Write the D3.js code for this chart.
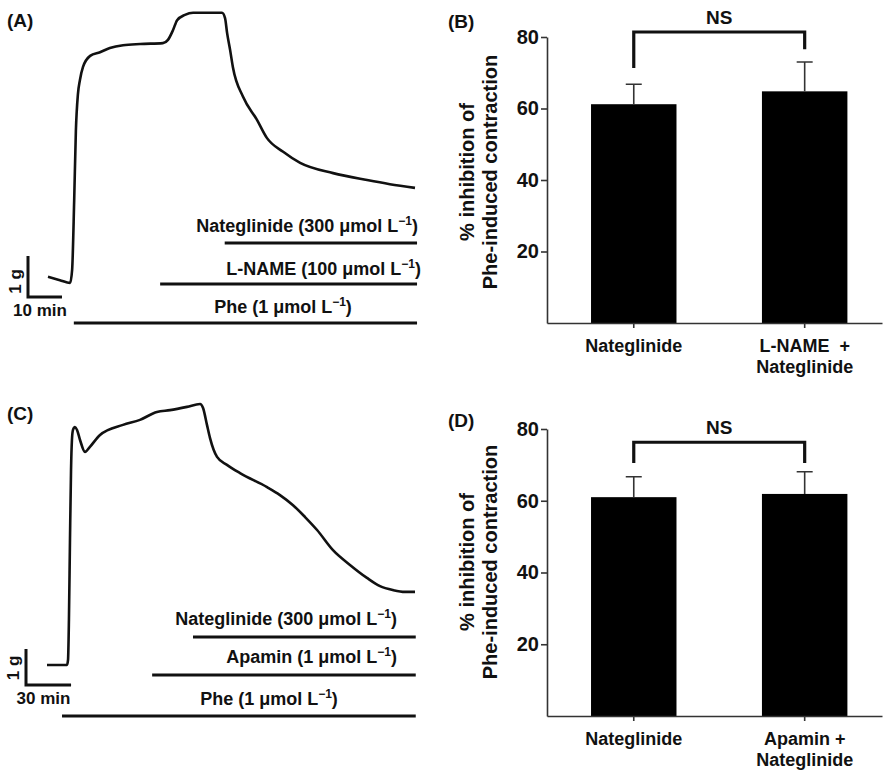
<!DOCTYPE html>
<html>
<head>
<meta charset="utf-8">
<script src="https://cdn.jsdelivr.net/npm/d3@7"></script>
<style>
  body { margin: 0; background: #fff; }
  text { font-family: "Liberation Sans", Arial, sans-serif; font-weight: bold; fill: #111; }
</style>
</head>
<body>
<div id="chart"></div>
<script>
// Trace A : temps (min) et tension (g)
const timeA = [0, 3.5, 6.5, 7.1, 7.7, 8.2, 8.8, 9.4, 10.3, 12.4, 15.3, 18.2, 22.1, 27.1, 33.8, 35.3, 36.8, 38.0, 40.3, 42.7, 47.7, 51.2, 52.1, 52.7, 53.6, 54.4, 57.4, 61.5, 64.4, 69.2, 74.2, 83.9, 93.9, 100.6, 108];
const tensionA = [0.15, 0.07, 0, 0.32, 2.0, 3.7, 4.6, 4.95, 5.27, 5.54, 5.63, 5.73, 5.8, 5.83, 5.85, 5.93, 6.17, 6.41, 6.54, 6.59, 6.59, 6.59, 6.46, 6.1, 5.68, 5.27, 4.54, 3.98, 3.54, 3.2, 2.93, 2.68, 2.51, 2.41, 2.32];

// Trace C
const timeC = [0, 13.3, 14.0, 14.6, 15.3, 16.0, 16.6, 17.3, 18.6, 20.0, 22.0, 25.3, 28.6, 35.3, 50.6, 61.9, 73.2, 81.9, 93.2, 101.9, 103.9, 106.5, 108.5, 113.2, 119.8, 128.5, 146.5, 155.1, 163.8, 171.8, 179.8, 190.4, 201.7, 213.0, 221.7, 230.4, 238.3, 245.0];
const tensionC = [0, 0, 0.14, 1.25, 3.47, 5.42, 6.25, 6.53, 6.61, 6.53, 6.25, 5.92, 6.06, 6.39, 6.67, 6.81, 7.03, 7.08, 7.17, 7.25, 7.14, 6.67, 6.31, 5.78, 5.56, 5.33, 4.94, 4.72, 4.44, 4.11, 3.75, 3.19, 2.78, 2.42, 2.19, 2.08, 2.03, 2.03];

// Traitements (nom, dose, début en min)
const drugsA = ["Nateglinide", "L-NAME", "Phe"];
const dosesA = ["300", "100", "1"];
const startsA = [52, 33, 7.6];
const drugsC = ["Nateglinide", "Apamin", "Phe"];
const dosesC = ["300", "1", "1"];
const startsC = [97.2, 70, 10];

// Histogrammes (% inhibition, moyenne + SEM)
const yTicks = [20, 40, 60, 80];
const catsB = ["Nateglinide", "L-NAME + Nateglinide"];
const labelsB = [["Nateglinide"], ["L-NAME  +", "Nateglinide"]];
const meansB = [61.2, 64.8];
const semB = [5.6, 8.2];
const bracketB = [71.3, 81.4, 76.6]; // jambe gauche, haut, jambe droite
const catsD = ["Nateglinide", "Apamin + Nateglinide"];
const labelsD = [["Nateglinide"], ["Apamin +", "Nateglinide"]];
const meansD = [61.0, 61.9];
const semD = [5.7, 6.2];
const bracketD = [70.5, 76.3, 70.5];

let svg = d3.select("#chart").append("svg")
  .attr("width", 883)
  .attr("height", 773);

// Étiquette "Nom (dose µmol L-1)" avec exposant
function doseLabel(x, y, anchor, name, dose) {
  let t = svg.append("text")
    .attr("x", x).attr("y", y)
    .attr("text-anchor", anchor)
    .style("font-size", "18px");
  t.append("tspan").text(name + " (" + dose + " μmol L");
  t.append("tspan").attr("dy", -7).style("font-size", "12px").text("−1");
  t.append("tspan").attr("dy", 7).text(")");
}

function drawTrace(o) {
  let x = d3.scaleLinear().domain([0, o.tMax]).range([o.x0, o.x1]);
  let y = d3.scaleLinear().domain([0, 1]).range([o.y0, o.y0 - o.pxPerG]);

  let pts = o.time.map((t, i) => [t, o.tension[i]]);
  let line = d3.line()
    .x(d => x(d[0]))
    .y(d => y(d[1]))
    .curve(d3.curveMonotoneX);

  svg.append("path")
    .datum(pts)
    .attr("d", line)
    .attr("fill", "none")
    .attr("stroke", "#111")
    .attr("stroke-width", 2.6)
    .attr("stroke-linejoin", "round");

  // barres de traitement
  o.drugs.forEach((name, i) => {
    svg.append("line")
      .attr("x1", x(o.starts[i])).attr("x2", x(o.tEnd))
      .attr("y1", o.barY[i]).attr("y2", o.barY[i])
      .attr("stroke", "#111")
      .attr("stroke-width", 3);
    let lab = o.labels[i];
    doseLabel(lab[0], lab[1], lab[2], name, o.doses[i]);
  });

  // échelle : 1 g et n min
  let w = x(o.sbMin) - x(0);
  let h = y(0) - y(1);
  svg.append("path")
    .attr("d", "M" + o.sbX + "," + (o.sbY - h) + "V" + o.sbY + "H" + (o.sbX + w))
    .attr("fill", "none")
    .attr("stroke", "#111")
    .attr("stroke-width", 3);
  svg.append("text")
    .attr("transform", "translate(" + (o.sbX - 13) + "," + (o.sbY - h / 2 + o.gShift) + ") rotate(-90)")
    .attr("text-anchor", "middle")
    .attr("dy", "0.35em")
    .style("font-size", "17px")
    .text("1 g");
  svg.append("text")
    .attr("x", o.sbX + w / 2 - 5)
    .attr("y", o.sbY + 19)
    .attr("text-anchor", "middle")
    .style("font-size", "17px")
    .text(o.sbMin + " min");

  svg.append("text")
    .attr("x", 7).attr("y", o.panelY)
    .style("font-size", "19px")
    .text(o.panel);
}

function drawBars(o) {
  let y = d3.scaleLinear().domain([0, 80]).range([o.y0, o.y80]);
  let x = d3.scaleBand()
    .domain(o.cats)
    .range([547, 882])
    .paddingInner(0.5)
    .paddingOuter(0.23)
    .align(0.56);
  let g = svg.append("g");

  // barres
  g.selectAll(".bar")
    .data(o.means)
    .join("rect")
    .attr("x", (d, i) => x(o.cats[i]))
    .attr("y", d => y(d))
    .attr("width", x.bandwidth())
    .attr("height", d => y(0) - y(d))
    .attr("fill", "#000");

  // erreurs (vers le haut seulement)
  o.means.forEach((m, i) => {
    let cx = x(o.cats[i]) + x.bandwidth() / 2;
    g.append("path")
      .attr("d", "M" + cx + "," + y(m) + "V" + y(m + o.sem[i]) + "M" + (cx - 8) + "," + y(m + o.sem[i]) + "H" + (cx + 8))
      .attr("fill", "none")
      .attr("stroke", "#333")
      .attr("stroke-width", 1.6);
  });

  // axes
  let ya = g.append("g")
    .attr("transform", "translate(547,0)")
    .call(d3.axisLeft(y).tickValues(yTicks).tickSize(6).tickSizeOuter(0).tickPadding(2));
  ya.selectAll("text").style("font-size", "20px").attr("font-family", null).attr("fill", null);
  ya.selectAll("line, path").attr("stroke", "#333").attr("stroke-width", 1.6);

  let xa = g.append("g")
    .attr("transform", "translate(0," + y(0) + ")")
    .call(d3.axisBottom(x).tickSize(5).tickSizeOuter(0).tickFormat(""));
  xa.selectAll("line, path").attr("stroke", "#333").attr("stroke-width", 1.6);

  // étiquettes des catégories
  o.labels.forEach((lines, i) => {
    let cx = x(o.cats[i]) + x.bandwidth() / 2;
    lines.forEach((s, j) => {
      g.append("text")
        .attr("x", cx).attr("y", y(0) + 29 + j * 21)
        .attr("text-anchor", "middle")
        .style("font-size", "18px")
        .style("white-space", "pre")
        .text(s);
    });
  });

  // titre de l'axe Y
  let ty = g.append("text")
    .attr("transform", "translate(467," + o.titleY + ") rotate(-90)")
    .attr("text-anchor", "middle")
    .style("font-size", "20px");
  ty.append("tspan").attr("x", 0).attr("dy", "0.35em").text("% inhibition of");
  ty.append("tspan").attr("x", 0).attr("dy", 23).text("Phe-induced contraction");

  // crochet NS
  let c1 = x(o.cats[0]) + x.bandwidth() / 2;
  let c2 = x(o.cats[1]) + x.bandwidth() / 2;
  g.append("path")
    .attr("d", "M" + c1 + "," + y(o.bracket[0]) + "V" + y(o.bracket[1]) + "H" + c2 + "V" + y(o.bracket[2]))
    .attr("fill", "none")
    .attr("stroke", "#111")
    .attr("stroke-width", 3.2);
  g.append("text")
    .attr("x", (c1 + c2) / 2)
    .attr("y", y(o.bracket[1]) - 8)
    .attr("text-anchor", "middle")
    .style("font-size", "19px")
    .text("NS");

  g.append("text")
    .attr("x", 448).attr("y", o.panelY)
    .style("font-size", "19px")
    .text(o.panel);
}

drawTrace({
  panel: "(A)", panelY: 27,
  time: timeA, tension: tensionA,
  tMax: 108, x0: 48, x1: 415, tEnd: 108.6,
  y0: 283, pxPerG: 41,
  drugs: drugsA, doses: dosesA, starts: startsA,
  barY: [243, 284, 323],
  labels: [[418, 232, "end"], [421, 275, "end"], [283, 313, "middle"]],
  sbX: 28, sbY: 297, sbMin: 10, gShift: 5
});

drawTrace({
  panel: "(C)", panelY: 420,
  time: timeC, tension: tensionC,
  tMax: 245, x0: 47, x1: 415, tEnd: 245.5,
  y0: 665, pxPerG: 36,
  drugs: drugsC, doses: dosesC, starts: startsC,
  barY: [637, 675, 716],
  labels: [[397, 625, "end"], [397, 663, "end"], [269, 705, "middle"]],
  sbX: 26, sbY: 685, sbMin: 30, gShift: 1
});

drawBars({
  panel: "(B)", panelY: 28,
  cats: catsB, labels: labelsB, means: meansB, sem: semB, bracket: bracketB,
  y0: 323, y80: 37, titleY: 172
});

drawBars({
  panel: "(D)", panelY: 427,
  cats: catsD, labels: labelsD, means: meansD, sem: semD, bracket: bracketD,
  y0: 716, y80: 429, titleY: 562
});
</script>
</body>
</html>
